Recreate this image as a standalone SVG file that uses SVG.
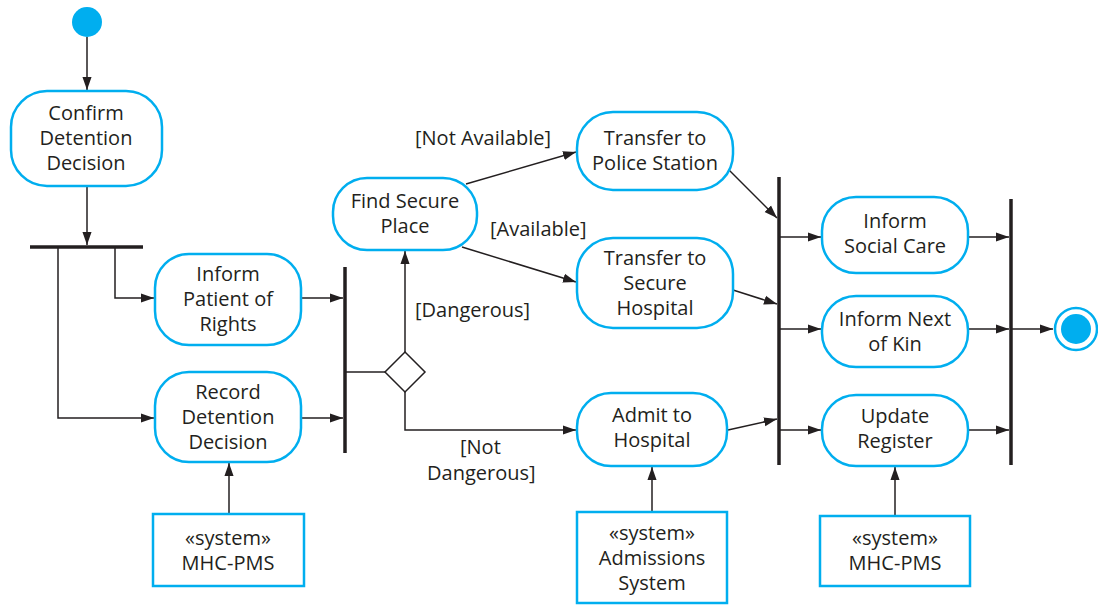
<svg xmlns="http://www.w3.org/2000/svg" width="1098" height="605" viewBox="0 0 1098 605">
<defs>
<marker id="ah" viewBox="0 0 10 10" refX="10" refY="5" markerWidth="13" markerHeight="13" markerUnits="userSpaceOnUse" orient="auto">
<path d="M0,1.5 L10,5 L0,8.5 z" fill="#231f20"/>
</marker>
<style>
.act{fill:#fff;stroke:#00aeef;stroke-width:2.5}
.sys{fill:#fff;stroke:#00aeef;stroke-width:2.5}
.t{font-family:"Open Sans","Liberation Sans",sans-serif;font-size:20px;fill:#231f20;text-anchor:middle}
.l{font-family:"Open Sans","Liberation Sans",sans-serif;font-size:20px;fill:#231f20}
.c{fill:none;stroke:#231f20;stroke-width:1.5}
.ca{fill:none;stroke:#231f20;stroke-width:1.5;marker-end:url(#ah)}
.bar{stroke:#231f20;stroke-width:3.5}
</style>
</defs>
<rect width="1098" height="605" fill="#fff"/>

<g id="connectors">
<line class="ca" x1="87" y1="37" x2="87" y2="90"/>
<line class="ca" x1="87" y1="187" x2="87" y2="245"/>
<polyline class="ca" points="115,248 115,298 154,298"/>
<polyline class="ca" points="58,248 58,418 154,418"/>
<line class="ca" x1="302" y1="298" x2="343" y2="298"/>
<line class="ca" x1="302" y1="418" x2="343" y2="418"/>
<line class="c" x1="345" y1="372" x2="385" y2="372"/>
<line class="ca" x1="405" y1="352" x2="405" y2="251"/>
<polyline class="ca" points="405,392 405,430 576,430"/>
<line class="ca" x1="466" y1="184" x2="576" y2="152"/>
<line class="ca" x1="462" y1="247" x2="576" y2="282"/>
<line class="ca" x1="728" y1="169" x2="777" y2="218"/>
<line class="ca" x1="733" y1="290" x2="777" y2="304"/>
<line class="ca" x1="728" y1="430" x2="777" y2="419"/>
<line class="ca" x1="229" y1="514" x2="229" y2="463"/>
<line class="ca" x1="652" y1="512" x2="652" y2="467"/>
<line class="ca" x1="895" y1="516" x2="895" y2="467"/>
<line class="ca" x1="779" y1="237" x2="821" y2="237"/>
<line class="ca" x1="779" y1="329" x2="821" y2="329"/>
<line class="ca" x1="779" y1="430" x2="821" y2="430"/>
<line class="ca" x1="969" y1="237" x2="1009" y2="237"/>
<line class="ca" x1="969" y1="329" x2="1009" y2="329"/>
<line class="ca" x1="969" y1="430" x2="1009" y2="430"/>
<line class="ca" x1="1011" y1="329" x2="1053" y2="329"/>
<text class="l" x="415" y="145">[Not Available]</text>
<text class="l" x="490" y="236">[Available]</text>
<text class="l" x="415" y="317">[Dangerous]</text>
<text class="l" x="460" y="454">[Not</text>
<text class="l" x="427" y="480">Dangerous]</text>
</g>

<g id="start"><circle cx="87" cy="22" r="15" fill="#00aeef"/></g>
<g id="end"><circle cx="1076" cy="329" r="21" fill="#fff" stroke="#00aeef" stroke-width="2.5"/><circle cx="1076" cy="329" r="15" fill="#00aeef"/></g>

<g id="fork1"><line class="bar" x1="30" y1="247" x2="143" y2="247"/></g>
<g id="join1"><line class="bar" x1="345" y1="267" x2="345" y2="453"/></g>
<g id="join2"><line class="bar" x1="779" y1="177" x2="779" y2="465"/></g>
<g id="join3"><line class="bar" x1="1011" y1="199" x2="1011" y2="465"/></g>
<g id="decision"><polygon points="405,352 425,372 405,392 385,372" fill="#fff" stroke="#231f20" stroke-width="1.5"/></g>

<g id="confirm"><rect class="act" x="11" y="91" width="151" height="95" rx="36"/>
<text class="t" x="86" y="120">Confirm</text><text class="t" x="86" y="145">Detention</text><text class="t" x="86" y="170">Decision</text></g>

<g id="inform-patient"><rect class="act" x="155" y="254" width="146" height="91" rx="34"/>
<text class="t" x="228" y="281">Inform</text><text class="t" x="228" y="306">Patient of</text><text class="t" x="228" y="331">Rights</text></g>

<g id="record"><rect class="act" x="155" y="372" width="146" height="90" rx="34"/>
<text class="t" x="228" y="399">Record</text><text class="t" x="228" y="424">Detention</text><text class="t" x="228" y="449">Decision</text></g>

<g id="find-secure"><rect class="act" x="333" y="178" width="144" height="72" rx="34"/>
<text class="t" x="405" y="208">Find Secure</text><text class="t" x="405" y="233">Place</text></g>

<g id="police"><rect class="act" x="577" y="112" width="156" height="78" rx="36"/>
<text class="t" x="655" y="145">Transfer to</text><text class="t" x="655" y="170">Police Station</text></g>

<g id="secure-hospital"><rect class="act" x="577" y="238" width="156" height="90" rx="36"/>
<text class="t" x="655" y="265">Transfer to</text><text class="t" x="655" y="290">Secure</text><text class="t" x="655" y="315">Hospital</text></g>

<g id="admit"><rect class="act" x="577" y="393" width="150" height="73" rx="34"/>
<text class="t" x="652" y="422">Admit to</text><text class="t" x="652" y="447">Hospital</text></g>

<g id="social-care"><rect class="act" x="822" y="197" width="146" height="76" rx="34"/>
<text class="t" x="895" y="228">Inform</text><text class="t" x="895" y="253">Social Care</text></g>

<g id="next-of-kin"><rect class="act" x="822" y="296" width="146" height="71" rx="34"/>
<text class="t" x="895" y="326">Inform Next</text><text class="t" x="895" y="351">of Kin</text></g>

<g id="update-register"><rect class="act" x="822" y="395" width="146" height="71" rx="34"/>
<text class="t" x="895" y="423">Update</text><text class="t" x="895" y="448">Register</text></g>

<g id="mhc-pms-1"><rect class="sys" x="153" y="514" width="151" height="72"/>
<text class="t" x="228" y="545">«system»</text><text class="t" x="228" y="570">MHC-PMS</text></g>

<g id="admissions-system"><rect class="sys" x="577" y="512" width="150" height="91"/>
<text class="t" x="652" y="540">«system»</text><text class="t" x="652" y="565">Admissions</text><text class="t" x="652" y="590">System</text></g>

<g id="mhc-pms-2"><rect class="sys" x="820" y="516" width="150" height="70"/>
<text class="t" x="895" y="545">«system»</text><text class="t" x="895" y="570">MHC-PMS</text></g>
</svg>
